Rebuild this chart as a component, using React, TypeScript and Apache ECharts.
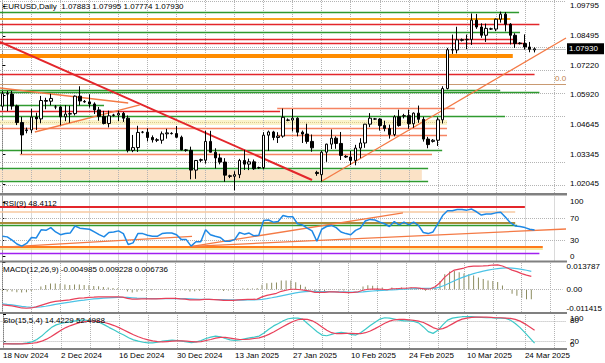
import React, { useEffect, useRef } from "react";
import * as echarts from "echarts";

const FONT = "'Liberation Sans', Arial, sans-serif";
const N_SLOTS = 117;
const LABEL_EVERY = 12;
const GRID_EVERY = 6;

const headerText = "EURUSD,Daily  1.07883 1.07995 1.07774 1.07930";
const rsiTitle = "RSI(9) 48.4112";
const macdTitle = "MACD(12,26,9) -0.004985 0.009228 0.006736";
const stoTitle = "Sto(15,5,4) 14.4229 52.4988";

const dateLabels = ["18 Nov 2024", "2 Dec 2024", "16 Dec 2024", "30 Dec 2024", "13 Jan 2025", "27 Jan 2025", "10 Feb 2025", "24 Feb 2025", "10 Mar 2025", "24 Mar 2025"];
const priceTicks = [1.02045, 1.03345, 1.04645, 1.0592, 1.0722, 1.08495, 1.09795];
const lastPrice = 1.0793;
const rsiTicks = [0, 30, 70, 100];
const macdTicks = [-0.011415, 0, 0.013787];
const stoTicks = [0, 20, 80, 100];

// open, high, low, close (Sunday bars included)
const candles: [number, number, number, number][] = [
  [1.0543, 1.0609, 1.0525, 1.0598], [1.0598, 1.061, 1.0522, 1.0596], [1.0596, 1.061, 1.0528, 1.0544], [1.0544, 1.055, 1.0461, 1.0472], [1.0472, 1.0497, 1.0335, 1.0418], [1.0437, 1.045, 1.0425, 1.044],
  [1.044, 1.0532, 1.0425, 1.0496], [1.0496, 1.0515, 1.044, 1.0488], [1.0488, 1.0588, 1.0469, 1.0568], [1.0568, 1.058, 1.053, 1.0565], [1.0565, 1.0597, 1.0547, 1.0577], [1.054, 1.0548, 1.053, 1.054],
  [1.054, 1.0545, 1.046, 1.0497], [1.0497, 1.0548, 1.0478, 1.0509], [1.0509, 1.0545, 1.0471, 1.0511], [1.0511, 1.059, 1.0503, 1.0587], [1.0587, 1.063, 1.0547, 1.0566], [1.0564, 1.057, 1.0558, 1.0562],
  [1.0562, 1.0595, 1.0537, 1.0553], [1.0553, 1.056, 1.0509, 1.0527], [1.0527, 1.054, 1.048, 1.0499], [1.0499, 1.0523, 1.0464, 1.0468], [1.0468, 1.0524, 1.0451, 1.0501], [1.0503, 1.051, 1.0498, 1.0505],
  [1.0505, 1.0524, 1.0478, 1.0512], [1.0512, 1.0518, 1.0475, 1.0491], [1.0491, 1.0503, 1.0342, 1.0351], [1.0351, 1.0418, 1.0343, 1.0363], [1.0363, 1.0458, 1.0344, 1.0429], [1.043, 1.0435, 1.0425, 1.043],
  [1.043, 1.0447, 1.039, 1.0407], [1.0407, 1.0416, 1.0385, 1.0397], [1.0397, 1.0404, 1.0387, 1.0395], [1.0395, 1.0433, 1.038, 1.0423], [1.0423, 1.0445, 1.0402, 1.0427], [1.0425, 1.043, 1.042, 1.0424],
  [1.0424, 1.0457, 1.0405, 1.0408], [1.0408, 1.0415, 1.0351, 1.0353], [1.0353, 1.0357, 1.0345, 1.0351], [1.0351, 1.0367, 1.0225, 1.0265], [1.0265, 1.0309, 1.0227, 1.0307], [1.031, 1.0315, 1.03, 1.0308],
  [1.0308, 1.0436, 1.0293, 1.039], [1.039, 1.0436, 1.0345, 1.0343], [1.0343, 1.036, 1.0272, 1.0318], [1.0318, 1.0336, 1.029, 1.03], [1.03, 1.0317, 1.0214, 1.0243], [1.024, 1.0245, 1.023, 1.0238],
  [1.0238, 1.026, 1.0177, 1.0245], [1.0245, 1.0314, 1.023, 1.0307], [1.0307, 1.0353, 1.0266, 1.0291], [1.0291, 1.0315, 1.0265, 1.0301], [1.0301, 1.0311, 1.0266, 1.0271], [1.0275, 1.028, 1.027, 1.0276],
  [1.0276, 1.043, 1.0268, 1.0417], [1.0417, 1.0437, 1.0348, 1.0431], [1.0431, 1.0436, 1.0395, 1.0407], [1.0407, 1.043, 1.0383, 1.0413], [1.0413, 1.0533, 1.0406, 1.0495], [1.0482, 1.049, 1.0478, 1.0483],
  [1.0483, 1.0531, 1.0433, 1.0491], [1.0491, 1.0495, 1.0412, 1.043], [1.043, 1.0437, 1.0383, 1.0422], [1.0422, 1.0467, 1.038, 1.039], [1.039, 1.042, 1.0345, 1.0362], [1.0255, 1.0262, 1.024, 1.025],
  [1.0245, 1.035, 1.0215, 1.0343], [1.0343, 1.038, 1.0301, 1.0378], [1.0378, 1.0442, 1.0357, 1.0404], [1.0404, 1.0412, 1.0358, 1.0381], [1.0381, 1.0431, 1.0309, 1.0329], [1.0325, 1.033, 1.0318, 1.0322],
  [1.0322, 1.0348, 1.0287, 1.0307], [1.0307, 1.0375, 1.0286, 1.0361], [1.0361, 1.0404, 1.0317, 1.0383], [1.0383, 1.0466, 1.0362, 1.0465], [1.0465, 1.0513, 1.0452, 1.0491], [1.0488, 1.0492, 1.0484, 1.0487],
  [1.0487, 1.0491, 1.0437, 1.0459], [1.0459, 1.048, 1.0434, 1.0446], [1.0446, 1.0463, 1.0402, 1.042], [1.042, 1.0504, 1.0412, 1.0497], [1.0497, 1.0528, 1.0454, 1.0459], [1.05, 1.051, 1.049, 1.0502],
  [1.0502, 1.0528, 1.0445, 1.0467], [1.0467, 1.0516, 1.0449, 1.0513], [1.0513, 1.0546, 1.0471, 1.0486], [1.0486, 1.0497, 1.0389, 1.04], [1.04, 1.041, 1.036, 1.0376], [1.039, 1.04, 1.0385, 1.0395],
  [1.0395, 1.0495, 1.037, 1.0484], [1.0484, 1.063, 1.0468, 1.062], [1.062, 1.0797, 1.0616, 1.0789], [1.0789, 1.0855, 1.0771, 1.0788], [1.0788, 1.0889, 1.0773, 1.0832], [1.083, 1.0838, 1.0825, 1.0833],
  [1.0833, 1.0855, 1.0792, 1.0834], [1.0834, 1.0947, 1.081, 1.0918], [1.0918, 1.0945, 1.088, 1.0888], [1.0888, 1.0904, 1.0841, 1.0852], [1.0852, 1.0903, 1.0823, 1.0882], [1.088, 1.0885, 1.0875, 1.0879],
  [1.0879, 1.0925, 1.087, 1.0922], [1.0922, 1.0955, 1.0907, 1.0944], [1.0944, 1.0953, 1.0869, 1.09], [1.09, 1.0905, 1.0812, 1.0852], [1.0852, 1.0861, 1.0797, 1.0816], [1.0818, 1.0822, 1.0812, 1.0816],
  [1.0816, 1.0856, 1.079, 1.0801], [1.0801, 1.0823, 1.0778, 1.0791], [1.07883, 1.07995, 1.07774, 1.0793],
];

const rsi = [37, 36, 30, 23, 19, 24, 35, 34, 49, 48, 53, 45, 40, 42, 43, 56, 52, 51, 50, 45, 40, 36, 44, 45, 47, 42, 22, 25, 42, 42, 39, 37, 37, 42, 43, 43, 40, 31, 31, 19, 27, 27, 49, 40, 37, 35, 28, 28, 31, 44, 41, 43, 38, 39, 66, 67, 63, 64, 75, 73, 73, 60, 58, 52, 47, 28, 50, 55, 57, 53, 45, 42, 40, 48, 52, 65, 68, 67, 63, 60, 55, 64, 58, 63, 58, 63, 57, 44, 42, 45, 60, 75, 84, 84, 86, 86, 85, 87, 82, 76, 78, 78, 80, 81, 72, 62, 56, 55, 53, 50, 48.4112];

const macdMain = [-0.00781, -0.00807, -0.00833, -0.00884, -0.00936, -0.00951, -0.00936, -0.00884, -0.00807, -0.0073, -0.00653, -0.00601, -0.00576, -0.0055, -0.00524, -0.00473, -0.00437, -0.00421, -0.00396, -0.00385, -0.0037, -0.0037, -0.0037, -0.0037, -0.0037, -0.00385, -0.00447, -0.00488, -0.00488, -0.00473, -0.00473, -0.00473, -0.00473, -0.00457, -0.00447, -0.00447, -0.00447, -0.00473, -0.00488, -0.00524, -0.00524, -0.00524, -0.00499, -0.00499, -0.00509, -0.00524, -0.0055, -0.0055, -0.0055, -0.00524, -0.00509, -0.00499, -0.00499, -0.00488, -0.0037, -0.00293, -0.00241, -0.0019, -0.00087, -0.00036, 0.00016, 0.00016, -0.0001, -0.00036, -0.00077, -0.00139, -0.00139, -0.00139, -0.00113, -0.00113, -0.00128, -0.00139, -0.00154, -0.00139, -0.00113, -0.00036, 0.00016, 0.00026, 0.00026, 0.00016, -0.0001, 0.00042, 0.00042, 0.00067, 0.00067, 0.00093, 0.00093, 0.00057, 0.00026, 0.00042, 0.00144, 0.0035, 0.00633, 0.00839, 0.00993, 0.01045, 0.01096, 0.01173, 0.01199, 0.01199, 0.01209, 0.01224, 0.0125, 0.0126, 0.01199, 0.01096, 0.00993, 0.00916, 0.00813, 0.00736, 0.006736];
const macdSignal = [-0.0073, -0.00756, -0.00781, -0.00817, -0.00859, -0.00884, -0.009, -0.009, -0.00884, -0.00848, -0.00807, -0.00756, -0.00715, -0.00679, -0.00643, -0.00601, -0.00565, -0.00535, -0.00504, -0.00478, -0.00457, -0.00437, -0.00421, -0.00411, -0.00401, -0.00396, -0.00401, -0.00416, -0.00432, -0.00442, -0.00452, -0.00457, -0.00463, -0.00463, -0.00463, -0.00457, -0.00457, -0.00457, -0.00463, -0.00473, -0.00483, -0.00494, -0.00499, -0.00499, -0.00504, -0.00509, -0.00514, -0.00524, -0.00529, -0.00535, -0.00535, -0.00529, -0.00524, -0.00519, -0.00494, -0.00457, -0.00416, -0.0037, -0.00318, -0.00267, -0.00216, -0.00169, -0.00133, -0.00108, -0.00092, -0.00092, -0.00097, -0.00103, -0.00108, -0.00113, -0.00113, -0.00118, -0.00123, -0.00128, -0.00128, -0.00113, -0.00092, -0.00072, -0.00051, -0.00036, -0.00025, -0.0001, 0, 0.00016, 0.00026, 0.00042, 0.00052, 0.00057, 0.00057, 0.00057, 0.00078, 0.00129, 0.00222, 0.00335, 0.00453, 0.00556, 0.00649, 0.00736, 0.00813, 0.0088, 0.00942, 0.00993, 0.01034, 0.0107, 0.01096, 0.01106, 0.01096, 0.0107, 0.01029, 0.00983, 0.009228];
const macdHist = [-0.00102, -0.00102, -0.00104, -0.00134, -0.00154, -0.00134, -0.00072, 0.00032, 0.00154, 0.00236, 0.00308, 0.0031, 0.00278, 0.00258, 0.00238, 0.00256, 0.00256, 0.00228, 0.00216, 0.00186, 0.00174, 0.00134, 0.00102, 0.00082, 0.00062, 0.00022, -0.00092, -0.00144, -0.00112, -0.00062, -0.00042, -0.00032, -0.0002, 0.00012, 0.00032, 0.0002, 0.0002, -0.00032, -0.0005, -0.00102, -0.00082, -0.0006, 0, 0, -0.0001, -0.0003, -0.00072, -0.00052, -0.00042, 0.00022, 0.00052, 0.0006, 0.0005, 0.00062, 0.00248, 0.00328, 0.0035, 0.0036, 0.00462, 0.00462, 0.00464, 0.0037, 0.00246, 0.00144, 0.0003, -0.00094, -0.00084, -0.00072, -0.0001, 0, -0.0003, -0.00042, -0.00062, -0.00022, 0.0003, 0.00154, 0.00216, 0.00196, 0.00154, 0.00104, 0.0003, 0.00104, 0.00084, 0.00102, 0.00082, 0.00102, 0.00082, 0, -0.00062, -0.0003, 0.00132, 0.00442, 0.0078, 0.0092, 0.0094, 0.0088, 0.0082, 0.0078, 0.0072, 0.0062, 0.00534, 0.00462, 0.00432, 0.0038, 0.00206, -0.0002, -0.00206, -0.00308, -0.00432, -0.00494, -0.004985];

const stoMain = [14, 13, 12, 12, 13, 15, 18, 25, 35, 48, 60, 68, 72, 75, 77, 80, 82, 82, 80, 78, 75, 68, 60, 53, 45, 38, 30, 24, 20, 17, 15, 15, 17, 20, 22, 23, 22, 20, 18, 16, 18, 22, 28, 32, 35, 33, 28, 24, 22, 24, 27, 30, 32, 35, 44, 55, 65, 72, 80, 86, 88, 88, 85, 72, 60, 48, 38, 36, 40, 44, 46, 44, 40, 38, 45, 55, 66, 76, 85, 89, 88, 85, 82, 80, 80, 78, 74, 62, 48, 43, 52, 68, 82, 88, 90, 92, 92, 92, 91, 90, 89, 89, 88, 88, 87, 82, 72, 60, 45, 30, 14.4229];
const stoSignal = [12, 12, 12, 12, 12, 13, 14, 16, 20, 26, 34, 43, 52, 60, 66, 71, 75, 78, 79, 79, 78, 75, 71, 66, 60, 53, 46, 39, 33, 28, 24, 21, 19, 18, 19, 20, 21, 21, 20, 19, 18, 19, 22, 25, 29, 31, 31, 29, 27, 25, 25, 26, 28, 30, 34, 40, 47, 55, 63, 71, 78, 83, 85, 84, 80, 72, 62, 52, 45, 42, 42, 43, 43, 42, 42, 45, 50, 57, 65, 73, 79, 83, 84, 84, 83, 81, 79, 75, 68, 60, 55, 57, 63, 71, 79, 85, 88, 90, 91, 91, 91, 90, 89, 89, 88, 87, 84, 79, 71, 62, 52.4988];

// horizontal objects: price, from bar, to bar, kind
const priceLevels: [number, number, number, string][] = [
  [1.09534, -0.5, 106.8, "green"], [1.09229, -0.5, 105, "gold"], [1.09011, -0.5, 111, "red"], [1.08663, -0.5, 107, "green"],
  [1.08358, -0.5, 106.4, "red"], [1.08184, -0.5, 108, "red"], [1.0793, -0.5, 116.5, "bid"], [1.07618, -0.5, 105.5, "orange"],
  [1.06834, -0.5, 110, "red"], [1.06399, -0.5, 116.5, "tan"], [1.06138, -0.5, 102.9, "green"], [1.0602, -0.5, 111, "green"],
  [1.05485, -0.5, 21, "green"], [1.0534, 56.8, 93.5, "salmon"], [1.05194, -0.5, 57.4, "red"], [1.05006, -0.5, 103.9, "green"],
  [1.04723, -0.5, 91.9, "dotYellow"], [1.04483, -0.5, 91.9, "salmon"], [1.04155, 56.8, 91.9, "salmon"], [1.03525, -0.5, 90.9, "green"],
  [1.03351, 3.6, 88.8, "salmon"], [1.02742, -0.5, 88, "green"], [1.02176, -0.5, 88, "green"],
];
const priceBands: [number, number, number, number, string][] = [
  [1.04614, 1.04832, -0.5, 91.9, "yellowBand"], [1.02219, 1.02654, -0.5, 86.7, "peachBand"],
];
const priceTrends: [[number, number], [number, number], string][] = [
  [[-0.5, 1.08228], [64, 1.02219], "redThick"], [[66.06, 1.02176], [116.5, 1.08402], "coral"],
  [[-0.5, 1.06225], [26, 1.05572], "coral"], [[6.7, 1.04309], [28.4, 1.05485], "coral"],
];
const fibLevel = 1.06399;
const fibText = "0.0";

const rsiLevels: [number, number, number, string][] = [
  [91.5, -0.5, 108, "redThick"], [82.4, -0.5, 106, "peach"], [61.3, -0.5, 106, "olive"], [58.2, -0.5, 106.4, "green"],
  [18.7, -0.5, 111.7, "orangeMid"], [14, -0.5, 111.7, "yellow"], [6.7, -0.5, 111, "purple"],
];
const rsiTrends: [[number, number], [number, number], string][] = [
  [[39.2, 18.7], [82.8, 80], "coral"], [[39.2, 18.7], [116.5, 50.4], "coral"], [[-0.5, 16.9], [39.2, 36.9], "coral"],
];
const macdTrends: [[number, number], [number, number], string][] = [[[30.5, -0.00937], [116.7, 0.00539], "coral"]];
const stoTrends: [[number, number], [number, number], string][] = [[[73.9, 29.4], [116.7, 61.8], "coral"]];

const STY: Record<string, any> = {
  green: { color: "#2f9a2f", width: 1.3, type: "solid" },
  red: { color: "#e3262b", width: 1.3, type: "solid" },
  redThick: { color: "#e3262b", width: 2, type: "solid" },
  orange: { color: "#ff8c00", width: 4, type: "solid" },
  orangeMid: { color: "#ff7a1a", width: 2, type: "solid" },
  gold: { color: "#f7a51e", width: 2, type: "solid" },
  salmon: { color: "#f58462", width: 1.3, type: "solid" },
  tan: { color: "#c99a72", width: 1, type: "solid" },
  coral: { color: "#f47a45", width: 1.3, type: "solid" },
  bid: { color: "#c0c0c0", width: 1, type: "solid" },
  olive: { color: "#a98d3c", width: 2, type: "solid" },
  peach: { color: "#f7c8a0", width: 1.5, type: "solid" },
  yellow: { color: "#efe38a", width: 1.5, type: "solid" },
  purple: { color: "#a020f0", width: 1.3, type: "solid" },
  dotYellow: { color: "#d8c890", width: 1, type: "dotted" },
  yellowBand: { color: "#fbf3c8" },
  peachBand: { color: "#fbe2c6" },
};
const GRID_COLOR = "#b4b4b4";

function gridXs() {
  const xs: number[] = [];
  for (let i = 0; i < N_SLOTS; i += GRID_EVERY) xs.push(i);
  return xs;
}

function overlay(xAxisIndex: number, yAxisIndex: number, hLevels: number[], levels: any[], trends: any[], bands: any[] = []) {
  const gridLines = [
    ...gridXs().map((x) => ({ xAxis: x })),
    ...hLevels.map((v) => ({ yAxis: v })),
  ];
  return [
    {
      type: "line", xAxisIndex, yAxisIndex, data: [], silent: true, z: 1,
      markLine: { silent: true, symbol: ["none", "none"], label: { show: false }, lineStyle: { color: GRID_COLOR, type: "dotted", width: 1 }, data: gridLines },
      markArea: { silent: true, data: bands.map(([a, b, x0, x1, k]) => [{ coord: [x0, a], itemStyle: { color: STY[k].color } }, { coord: [x1, b] }]) },
    },
    {
      type: "line", xAxisIndex, yAxisIndex, data: [], silent: true, z: 3,
      markLine: {
        silent: true, symbol: ["none", "none"], label: { show: false },
        data: [
          ...levels.map(([p, x0, x1, k]) => [{ coord: [x0, p], lineStyle: STY[k] }, { coord: [x1, p] }]),
          ...trends.map(([a, b, k]) => [{ coord: a, lineStyle: STY[k] }, { coord: b }]),
        ],
      },
    },
  ];
}

function buildOption() {
  const slots = Array.from({ length: N_SLOTS }, (_, i) => String(i));
  const tops = [0, 196, 262.5, 314];
  const heights = [193, 64.5, 49.5, 34];
  const grid = tops.map((t, i) => ({ left: 0, right: 39, top: t, height: heights[i] }));
  const xAxis: any[] = [];
  for (let g = 0; g < 4; g++) {
    xAxis.push({
      type: "category", gridIndex: g, data: slots, boundaryGap: true,
      axisLine: { show: false }, axisTick: { show: false }, splitLine: { show: false },
      axisLabel: g === 3 ? {
        show: true, interval: (i: number) => i % LABEL_EVERY === 0 && i / LABEL_EVERY < dateLabels.length,
        formatter: (_v: string, i: number) => dateLabels[i / LABEL_EVERY] ?? "",
        align: "left", margin: 3, fontSize: 8, fontFamily: FONT, color: "#000",
      } : { show: false },
    });
    xAxis.push({ type: "value", gridIndex: g, min: -0.5, max: N_SLOTS - 0.5, show: false });
  }
  const yCommon = (g: number, min: number, max: number, ticks: number[], fmt: (v: number) => string, edge = false, labels = true) => ({
    type: "value", gridIndex: g, position: "right", min, max, scale: true,
    axisLine: { show: true, lineStyle: { color: "#808080" } },
    axisTick: { show: true, length: 3, customValues: ticks, lineStyle: { color: "#000" } },
    axisLabel: {
      show: labels,
      customValues: ticks, formatter: fmt, fontSize: 8, fontFamily: FONT, color: "#000", margin: 4,
      hideOverlap: false, showMinLabel: true, showMaxLabel: true,
      ...(edge ? { verticalAlignMaxLabel: "top", verticalAlignMinLabel: "bottom" } : {}),
    },
    splitLine: { show: false },
  });
  const yAxis = [
    yCommon(0, 1.01653, 1.10056, priceTicks, (v) => v.toFixed(5)),
    yCommon(1, -7.3, 110.9, rsiTicks, (v) => String(Math.round(v))),
    yCommon(2, -0.011415, 0.013787, macdTicks, (v) => (Math.abs(v) < 1e-9 ? "0.00" : v.toFixed(6)), true),
    yCommon(3, 0, 100, stoTicks, (v) => String(Math.round(v)), true, false),
  ];

  const series: any[] = [
    ...overlay(1, 0, priceTicks, priceLevels, priceTrends, priceBands),
    {
      type: "candlestick", xAxisIndex: 0, yAxisIndex: 0, barWidth: 3, z: 5,
      data: candles.map(([o, h, l, c]) => [o, c, l, h]),
      itemStyle: { color: "#ffffff", color0: "#000000", borderColor: "#000000", borderColor0: "#000000", borderWidth: 1 },
    },
    ...overlay(3, 1, [30, 70], rsiLevels, rsiTrends),
    { type: "line", xAxisIndex: 2, yAxisIndex: 1, data: rsi, showSymbol: false, z: 5, lineStyle: { color: "#1e88e5", width: 1.5 } },
    ...overlay(5, 2, [0], [], macdTrends),
    { type: "bar", xAxisIndex: 4, yAxisIndex: 2, data: macdHist, barWidth: 1, z: 4, itemStyle: { color: "#8c8c60" } },
    { type: "line", xAxisIndex: 4, yAxisIndex: 2, data: macdSignal, showSymbol: false, z: 5, lineStyle: { color: "#4cc3e6", width: 1.2 } },
    { type: "line", xAxisIndex: 4, yAxisIndex: 2, data: macdMain, showSymbol: false, z: 5, lineStyle: { color: "#e8405a", width: 1.2 } },
    ...overlay(7, 3, [20, 80], [], stoTrends),
    { type: "line", xAxisIndex: 6, yAxisIndex: 3, data: stoMain, showSymbol: false, z: 5, lineStyle: { color: "#3cc8c8", width: 1.2 } },
    { type: "line", xAxisIndex: 6, yAxisIndex: 3, data: stoSignal, showSymbol: false, z: 5, lineStyle: { color: "#e8405a", width: 1.2 } },
  ];

  return { animation: false, backgroundColor: "#ffffff", grid, xAxis, yAxis, series };
}

export default function App() {
  const ref = useRef<HTMLDivElement>(null);
  useEffect(() => {
    const chart = echarts.init(ref.current!, null, { renderer: "svg" });
    chart.setOption(buildOption());
    const yLast = chart.convertToPixel({ yAxisIndex: 0 }, lastPrice) as number;
    const yFib = chart.convertToPixel({ yAxisIndex: 0 }, fibLevel) as number;
    const sepColor = "#808080";
    const txt = (x: number, y: number, text: string, fill = "#000") => ({
      type: "text", x, y, z: 100, style: { text, fontSize: 8, fontFamily: FONT, fill, verticalAlign: "middle" },
    });
    // stochastic scale labels, kept inside their small panel the way the terminal does
    const stoLabels = stoTicks.map((v) => {
      const y = chart.convertToPixel({ yAxisIndex: 3 }, v) as number;
      return txt(570, Math.min(Math.max(y, 318), 344), String(v));
    });
    chart.setOption({
      graphic: [
        { type: "rect", shape: { x: 0, y: 193, width: 567, height: 2.5 }, style: { fill: sepColor }, z: 90 },
        { type: "rect", shape: { x: 0, y: 260.5, width: 567, height: 2 }, style: { fill: sepColor }, z: 90 },
        { type: "rect", shape: { x: 0, y: 312, width: 567, height: 2 }, style: { fill: sepColor }, z: 90 },
        { type: "rect", shape: { x: 0, y: 348, width: 567, height: 2 }, style: { fill: sepColor }, z: 90 },
        txt(3, 6, headerText),
        txt(3, 203.5, rsiTitle),
        txt(3, 269, macdTitle),
        txt(3, 320, stoTitle),
        txt(555, yFib - 5, fibText, "#c0804a"),
        ...stoLabels,
        { type: "rect", shape: { x: 567, y: yLast - 5.5, width: 37, height: 11 }, style: { fill: "#000" }, z: 95 },
        txt(569, yLast, "1.07930", "#fff"),
      ],
    });
    return () => chart.dispose();
  }, []);
  return <div ref={ref} style={{ width: 605, height: 363, position: "absolute", left: 0, top: 0 }} />;
}
